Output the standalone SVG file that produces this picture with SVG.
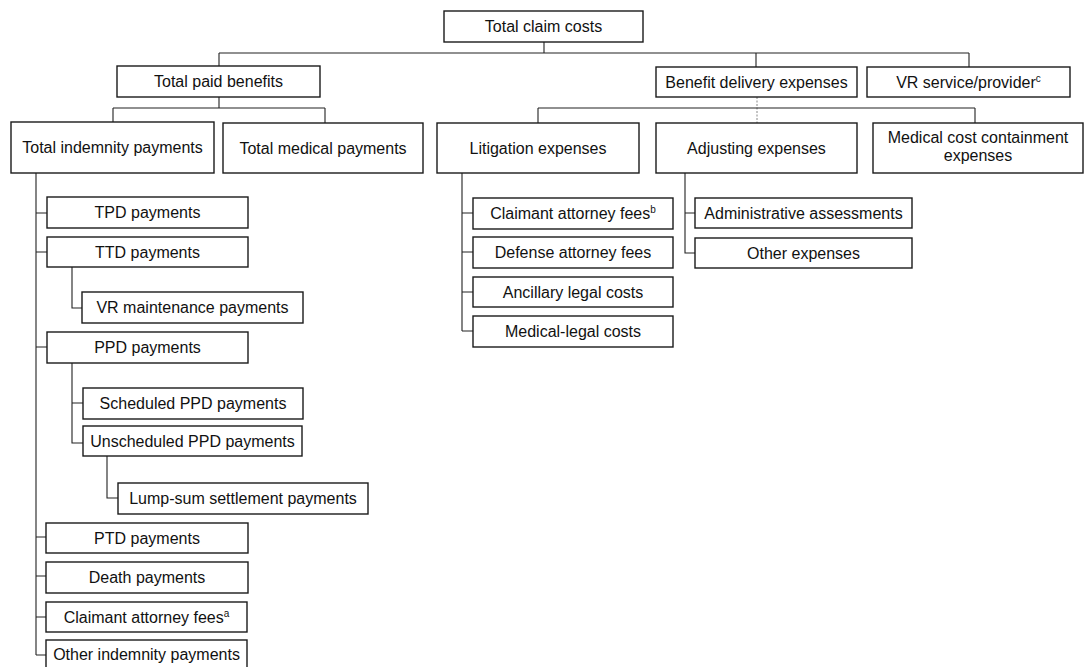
<svg xmlns="http://www.w3.org/2000/svg" width="1085" height="667" viewBox="0 0 1085 667">
<style>
.box{fill:#fff;stroke:#1a1a1a;stroke-width:1.4}
.t{font-family:"Liberation Sans",Arial,sans-serif;font-size:16px;fill:#111;text-anchor:middle}
.sup{font-size:10px}
.c{fill:none;stroke:#222;stroke-width:1.1}
.d{fill:none;stroke:#888;stroke-width:1;stroke-dasharray:2 1.5}
</style>
<rect width="1085" height="667" fill="#fff"/>
<g id="connectors">
<path class="c" d="M544 42V53M219 53H969M219 53V66M756 53V67M969 53V67"/>
<path class="c" d="M219 97V108M113 108H325M113 108V122M325 108V123"/>
<path class="d" d="M757 97V123"/>
<path class="c" d="M538 108H975M538 108V123M975 108V123"/>
<path class="c" d="M36 173V655M36 213H47M36 252H47M36 347H47M36 537H46M36 576H46M36 617H46M36 655H46"/>
<path class="c" d="M72 267V308H82"/>
<path class="c" d="M72 363V443H83M72 403H83"/>
<path class="c" d="M107 456V498H118"/>
<path class="c" d="M462 173V331M462 213H473M462 252H473M462 292H473M462 331H473"/>
<path class="c" d="M685 173V253H695M685 213H695"/>
</g>
<g id="n-tcc"><rect class="box" x="444" y="11" width="199" height="31"/><text class="t" x="543.5" y="32">Total claim costs</text></g>
<g id="n-tpb"><rect class="box" x="117" y="66" width="203" height="31"/><text class="t" x="218.5" y="87">Total paid benefits</text></g>
<g id="n-bde"><rect class="box" x="656" y="67" width="201" height="30"/><text class="t" x="756.5" y="88">Benefit delivery expenses</text></g>
<g id="n-vr"><rect class="box" x="867" y="67" width="203" height="30"/><text class="t" x="968.5" y="88">VR service/provider<tspan class="sup" dy="-6">c</tspan></text></g>
<g id="n-tip"><rect class="box" x="11" y="122" width="203" height="51"/><text class="t" x="112.5" y="153">Total indemnity payments</text></g>
<g id="n-tmp"><rect class="box" x="223" y="123" width="200" height="50"/><text class="t" x="323" y="154">Total medical payments</text></g>
<g id="n-lit"><rect class="box" x="437" y="123" width="202" height="50"/><text class="t" x="538" y="154">Litigation expenses</text></g>
<g id="n-adj"><rect class="box" x="656" y="123" width="201" height="50"/><text class="t" x="756.5" y="154">Adjusting expenses</text></g>
<g id="n-mcc"><rect class="box" x="873" y="123" width="210" height="50"/><text class="t" x="978" y="143">Medical cost containment</text><text class="t" x="978" y="161">expenses</text></g>
<g id="n-tpd"><rect class="box" x="47" y="197" width="201" height="31"/><text class="t" x="147.5" y="218">TPD payments</text></g>
<g id="n-ttd"><rect class="box" x="47" y="237" width="201" height="30"/><text class="t" x="147.5" y="258">TTD payments</text></g>
<g id="n-vrm"><rect class="box" x="82" y="292" width="221" height="31"/><text class="t" x="192.5" y="313">VR maintenance payments</text></g>
<g id="n-ppd"><rect class="box" x="47" y="332" width="201" height="31"/><text class="t" x="147.5" y="353">PPD payments</text></g>
<g id="n-sppd"><rect class="box" x="83" y="388" width="220" height="31"/><text class="t" x="193" y="409">Scheduled PPD payments</text></g>
<g id="n-uppd"><rect class="box" x="83" y="426" width="219" height="30"/><text class="t" x="192.5" y="447">Unscheduled PPD payments</text></g>
<g id="n-lump"><rect class="box" x="118" y="483" width="250" height="31"/><text class="t" x="243" y="504">Lump-sum settlement payments</text></g>
<g id="n-ptd"><rect class="box" x="46" y="523" width="202" height="30"/><text class="t" x="147" y="544">PTD payments</text></g>
<g id="n-death"><rect class="box" x="46" y="562" width="202" height="31"/><text class="t" x="147" y="583">Death payments</text></g>
<g id="n-cafa"><rect class="box" x="46" y="602" width="201" height="30"/><text class="t" x="146.5" y="623">Claimant attorney fees<tspan class="sup" dy="-6">a</tspan></text></g>
<g id="n-oip"><rect class="box" x="46" y="640" width="201" height="28"/><text class="t" x="146.5" y="660">Other indemnity payments</text></g>
<g id="n-cafb"><rect class="box" x="473" y="198" width="200" height="31"/><text class="t" x="573" y="219">Claimant attorney fees<tspan class="sup" dy="-6">b</tspan></text></g>
<g id="n-daf"><rect class="box" x="473" y="237" width="200" height="31"/><text class="t" x="573" y="258">Defense attorney fees</text></g>
<g id="n-alc"><rect class="box" x="473" y="277" width="200" height="30"/><text class="t" x="573" y="298">Ancillary legal costs</text></g>
<g id="n-mlc"><rect class="box" x="473" y="316" width="200" height="31"/><text class="t" x="573" y="337">Medical-legal costs</text></g>
<g id="n-aa"><rect class="box" x="695" y="198" width="217" height="30"/><text class="t" x="803.5" y="219">Administrative assessments</text></g>
<g id="n-oe"><rect class="box" x="695" y="238" width="217" height="30"/><text class="t" x="803.5" y="259">Other expenses</text></g>
</svg>
